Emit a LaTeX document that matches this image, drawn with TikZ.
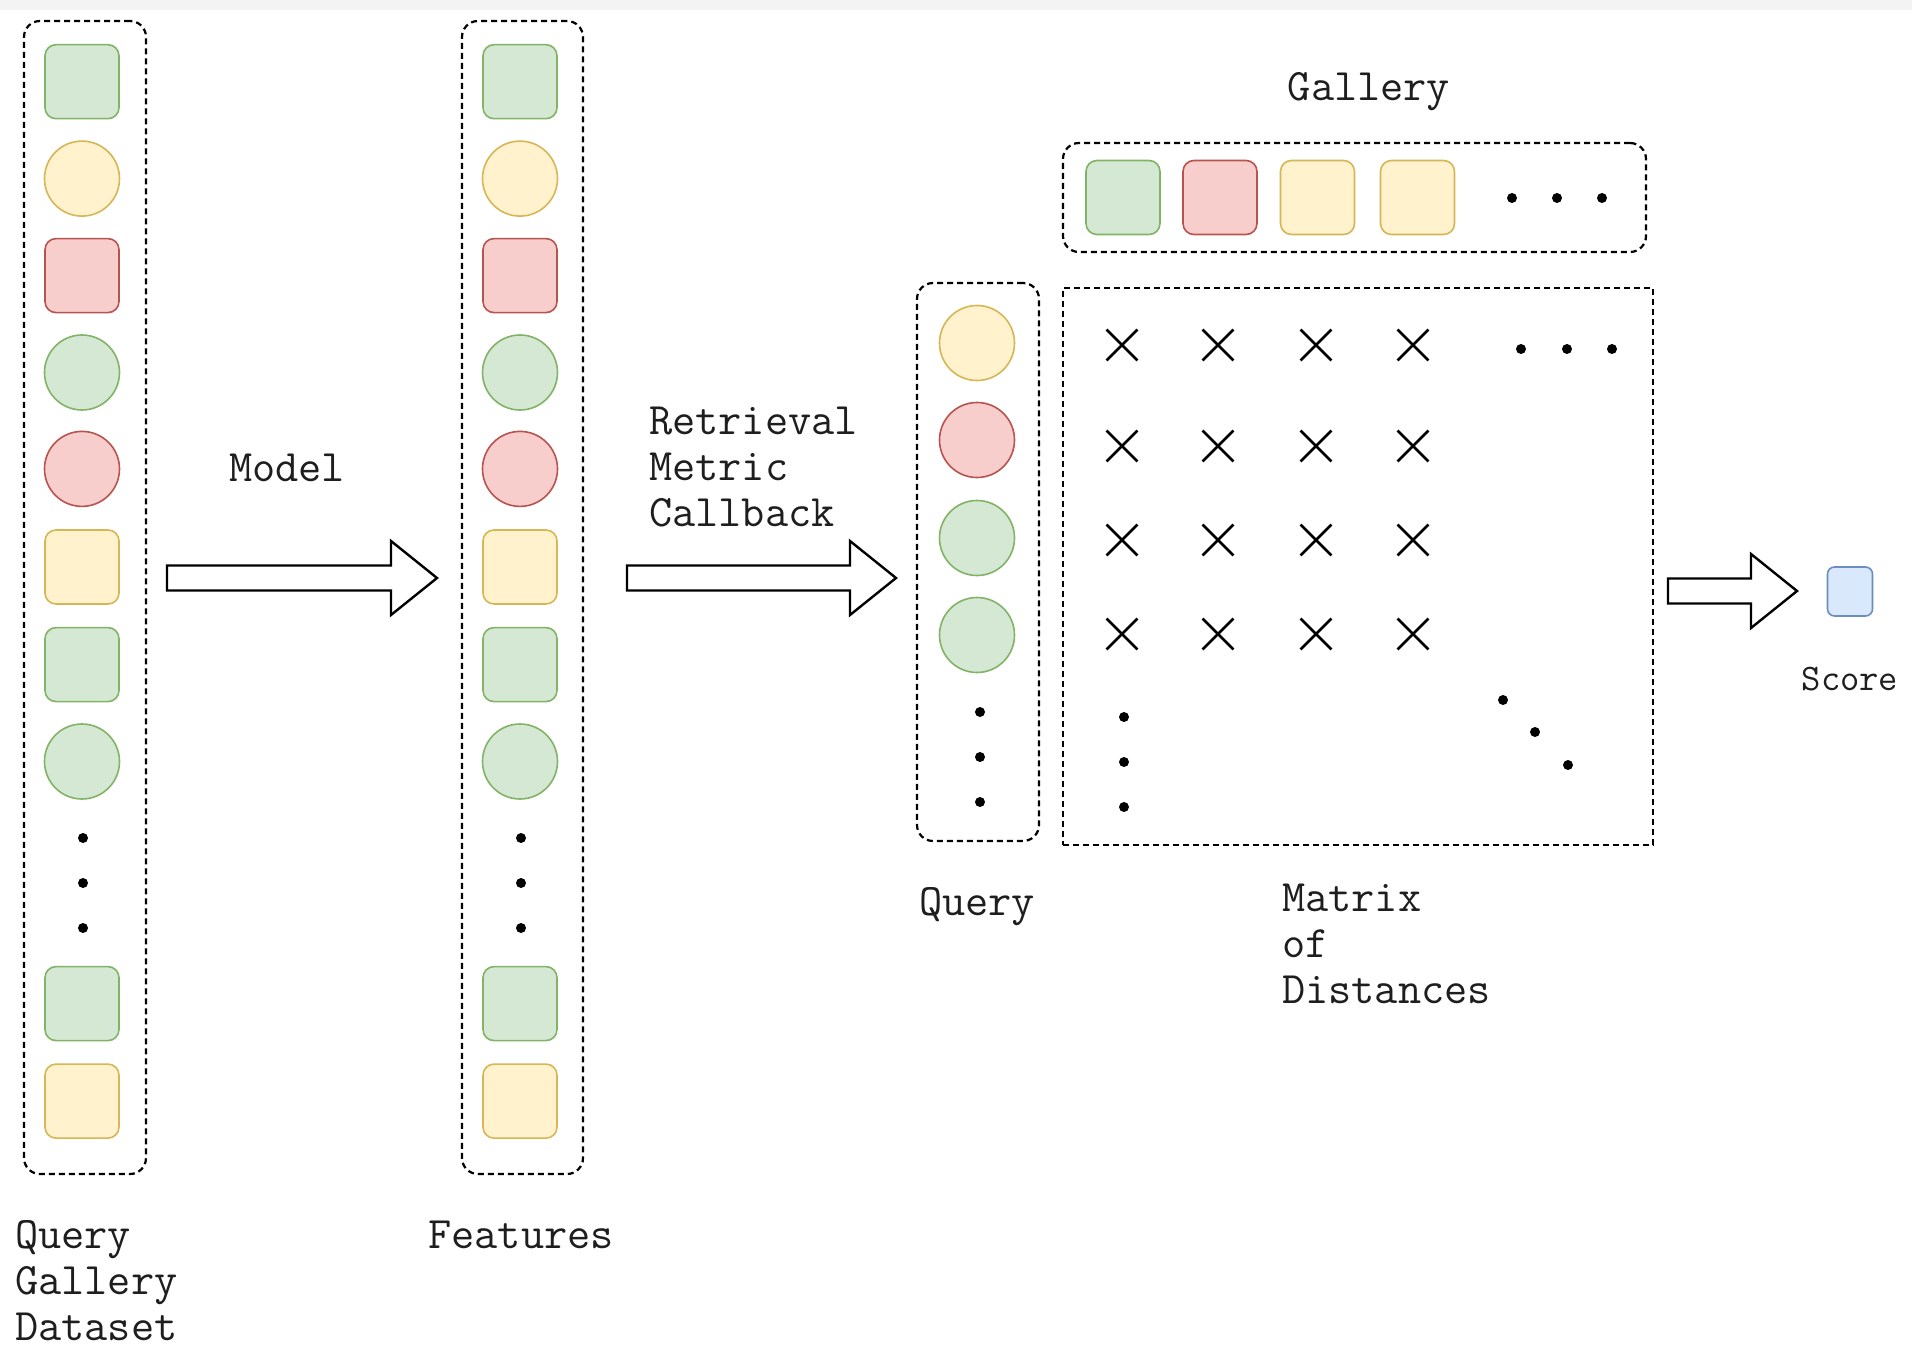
\documentclass[tikz,border=0pt]{standalone}
\usepackage{fontspec}
\usetikzlibrary{shapes.misc,calc}
\definecolor{gfill}{HTML}{D5E8D4}\definecolor{gline}{HTML}{82B366}
\definecolor{yfill}{HTML}{FFF2CC}\definecolor{yline}{HTML}{D6B656}
\definecolor{rfill}{HTML}{F8CECC}\definecolor{rline}{HTML}{B85450}
\definecolor{bfill}{HTML}{DAE8FC}\definecolor{bline}{HTML}{6C8EBF}
\definecolor{band}{HTML}{F3F3F3}
\definecolor{ink}{HTML}{1E1E1E}
% block arrow between two coordinates at the height of the first one
\newcommand\blockarr[2]{%
  \draw[barrow] let \p1=(#1), \p2=(#2) in
    (\x1,\y1+12.5pt) -- (\x2-46pt,\y1+12.5pt) -- (\x2-46pt,\y1+37pt) -- (\x2,\y1)
    -- (\x2-46pt,\y1-37pt) -- (\x2-46pt,\y1-12.5pt) -- (\x1,\y1-12.5pt) -- cycle;}
\begin{document}
\begin{tikzpicture}[x=1pt,y=-1pt,
  sq/.style={rectangle,rounded corners=11pt,minimum size=74pt,inner sep=0pt,line width=1.6pt},
  ci/.style={circle,minimum size=75pt,inner sep=0pt,line width=1.6pt},
  G/.style={fill=gfill,draw=gline},
  Y/.style={fill=yfill,draw=yline},
  R/.style={fill=rfill,draw=rline},
  grp/.style={draw=black,line width=2.2pt,dash pattern=on 6pt off 4pt,inner sep=0pt},
  rgrp/.style={grp,rounded corners=16pt},
  dotn/.style={circle,fill=black,minimum size=10pt,inner sep=0pt},
  xmark/.style={cross out,draw=black,line width=2.8pt,minimum size=28pt,inner sep=0pt},
  txt/.style={font=\ttfamily\fontsize{45}{46}\selectfont,inner sep=0pt,text=ink,align=left},
  small/.style={font=\ttfamily\fontsize{37.5}{40}\selectfont,inner sep=0pt,text=ink},
  barrow/.style={draw=black,fill=white,line width=2.4pt,line join=miter}]
\useasboundingbox (0,0) rectangle (1912,1348);
\fill[white] (0,0) rectangle (1912,1348);
\fill[band] (0,0) rectangle (1912,10);

% input column
\node[rgrp,minimum width=122pt,minimum height=1153pt] (dset) at (85,597.5) {};
\node[sq,G] (d1) at (82,81.7) {};
\node[ci,Y] (d2) at (82,178.6) {};
\node[sq,R] (d3) at (82,275.6) {};
\node[ci,G] (d4) at (82,372.5) {};
\node[ci,R] (d5) at (82,468.9) {};
\node[sq,Y] (d6) at (82,567) {};
\node[sq,G] (d7) at (82,664.6) {};
\node[ci,G] (d8) at (82,761.5) {};
\node[dotn] (dd1) at (83,838) {};
\node[dotn] (dd2) at (83,883) {};
\node[dotn] (dd3) at (83,928) {};
\node[sq,G] (d9) at (82,1003.6) {};
\node[sq,Y] (d10) at (82,1101.1) {};
\node[txt,anchor=north west] (dlab) at (15,1220) {Query\\Gallery\\Dataset};

% feature column
\node[rgrp,minimum width=121pt,minimum height=1153pt] (feat) at (522.5,597.5) {};
\node[sq,G] (f1) at (520,81.7) {};
\node[ci,Y] (f2) at (520,178.6) {};
\node[sq,R] (f3) at (520,275.6) {};
\node[ci,G] (f4) at (520,372.5) {};
\node[ci,R] (f5) at (520,468.9) {};
\node[sq,Y] (f6) at (520,567) {};
\node[sq,G] (f7) at (520,664.6) {};
\node[ci,G] (f8) at (520,761.5) {};
\node[dotn] (fd1) at (521,838) {};
\node[dotn] (fd2) at (521,883) {};
\node[dotn] (fd3) at (521,928) {};
\node[sq,G] (f9) at (520,1003.6) {};
\node[sq,Y] (f10) at (520,1101.1) {};
\node[txt] (flab) at (521,1235) {Features};

% model arrow
\coordinate (a1s) at (167,578);
\coordinate (a1e) at (437,578);
\blockarr{a1s}{a1e}
\node[txt] (mlab) at (287,468) {Model};

% retrieval arrow
\coordinate (a2s) at (627,578);
\coordinate (a2e) at (896,578);
\blockarr{a2s}{a2e}
\node[txt,anchor=west] (rlab) at (649,467) {Retrieval\\Metric\\Callback};

% query column
\node[rgrp,minimum width=122pt,minimum height=558pt] (qry) at (978,562) {};
\node[ci,Y] (q1) at (977,343) {};
\node[ci,R] (q2) at (977,440) {};
\node[ci,G] (q3) at (977,538) {};
\node[ci,G] (q4) at (977,635) {};
\node[dotn] (qd1) at (980,712) {};
\node[dotn] (qd2) at (980,757) {};
\node[dotn] (qd3) at (980,802) {};
\node[txt] (qlab) at (977,907) {Query};

% gallery row
\node[rgrp,minimum width=583pt,minimum height=109pt] (gal) at (1354.5,197.5) {};
\node[sq,G] (g1) at (1123,197.5) {};
\node[sq,R] (g2) at (1220,197.5) {};
\node[sq,Y] (g3) at (1317.5,197.5) {};
\node[sq,Y] (g4) at (1417.5,197.5) {};
\node[dotn] (gd1) at (1512,198) {};
\node[dotn] (gd2) at (1557,198) {};
\node[dotn] (gd3) at (1602,198) {};
\node[txt] (glab) at (1369,92) {Gallery};

% distance matrix
\node[grp,minimum width=590pt,minimum height=557pt] (mat) at (1358,566.5) {};
\foreach \r/\y in {1/345,2/446,3/540,4/634}{
  \foreach \c/\x in {1/1122,2/1218,3/1316,4/1413}{
    \node[xmark] (m\r\c) at (\x,\y) {};
  }
}
\node[dotn] (md1) at (1521,349) {};
\node[dotn] (md2) at (1567,349) {};
\node[dotn] (md3) at (1612,349) {};
\node[dotn] (mv1) at (1124,717) {};
\node[dotn] (mv2) at (1124,762) {};
\node[dotn] (mv3) at (1124,807) {};
\node[dotn] (mg1) at (1503,700) {};
\node[dotn] (mg2) at (1535,732) {};
\node[dotn] (mg3) at (1568,765) {};
\node[txt,anchor=west] (matlab) at (1282,944) {Matrix\\of\\Distances};

% score
\coordinate (a3s) at (1668,591);
\coordinate (a3e) at (1797,591);
\blockarr{a3s}{a3e}
\node[rectangle,rounded corners=7pt,minimum width=45pt,minimum height=49pt,inner sep=0pt,line width=1.6pt,fill=bfill,draw=bline] (score) at (1850,591.5) {};
\node[small] (slab) at (1850,679) {Score};
\end{tikzpicture}
\end{document}
